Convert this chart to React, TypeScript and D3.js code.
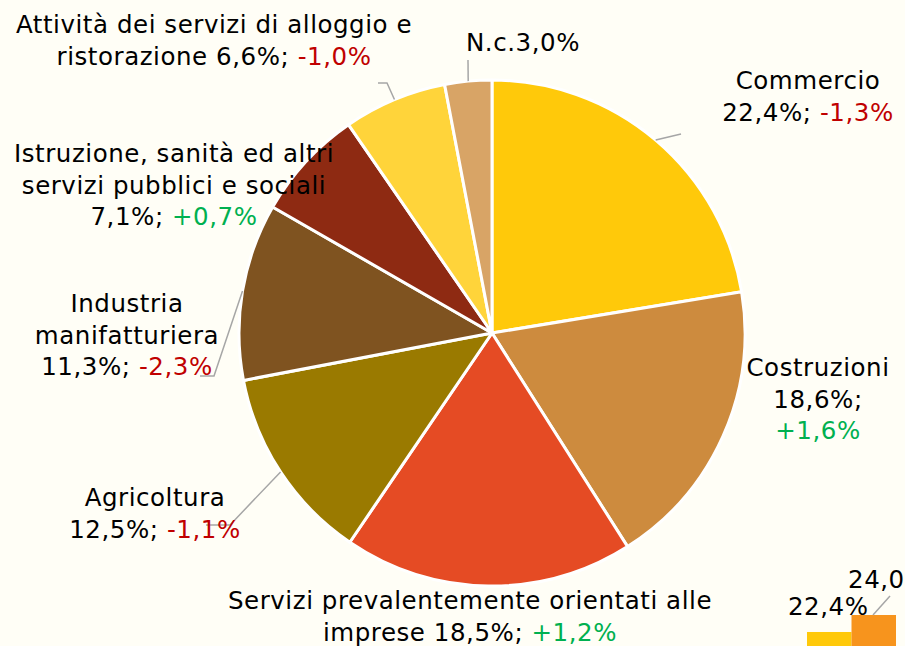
import { useEffect, useRef } from "react";
import * as d3 from "d3";

// sectors, share of total (%) and change (pp)
const sectors = [
  "Commercio",
  "Costruzioni",
  "Servizi prevalentemente orientati alle imprese",
  "Agricoltura",
  "Industria manifatturiera",
  "Istruzione, sanità ed altri servizi pubblici e sociali",
  "Attività dei servizi di alloggio e ristorazione",
  "N.c.",
];
const shares = [22.4, 18.6, 18.5, 12.5, 11.3, 7.1, 6.6, 3.0];
const changes: (number | null)[] = [-1.3, 1.6, 1.2, -1.1, -2.3, 0.7, -1.0, null];
const colors = ["#FFC90A", "#CD8B3E", "#E54B24", "#9A7A00", "#7F5320", "#8E2A12", "#FFD43A", "#D8A466"];

// truncated second chart in the bottom-right corner
const miniValues = [22.4, 24.0];
const miniLabels = ["22,4%", "24,0"];
const miniColors = ["#FFC90A", "#F7941D"];

const W = 905;
const H = 646;
const FONT = "'DejaVu Sans', Verdana, sans-serif";
const fmt = (v: number) => v.toFixed(1).replace(".", ",");
const sign = (v: number) => (v > 0 ? "+" : "") + fmt(v) + "%";

// label layout: text lines (as runs), center x, first baseline, optional leader end points
type Run = { t: string; c?: string };
const RED = "#C00000";
const GREEN = "#00B050";
const chg = (i: number): Run => ({ t: sign(changes[i] as number), c: (changes[i] as number) < 0 ? RED : GREEN });

const labelLayout: { lines: Run[][]; x: number; y: number; leader?: [number, number][] }[] = [
  { lines: [[{ t: "Commercio" }], [{ t: `${fmt(shares[0])}%; ` }, chg(0)]], x: 808, y: 89, leader: [[681, 134]] },
  { lines: [[{ t: "Costruzioni" }], [{ t: `${fmt(shares[1])}%;` }], [chg(1)]], x: 818, y: 376 },
  { lines: [[{ t: "Servizi prevalentemente orientati alle" }], [{ t: `imprese ${fmt(shares[2])}%; ` }, chg(2)]], x: 470, y: 609 },
  { lines: [[{ t: "Agricoltura" }], [{ t: `${fmt(shares[3])}%; ` }, chg(3)]], x: 155, y: 506, leader: [[230, 525], [206, 525]] },
  { lines: [[{ t: "Industria" }], [{ t: "manifatturiera" }], [{ t: `${fmt(shares[4])}%; ` }, chg(4)]], x: 127, y: 312, leader: [[214, 376], [200, 376]] },
  { lines: [[{ t: "Istruzione, sanità ed altri" }], [{ t: "servizi pubblici e sociali" }], [{ t: `${fmt(shares[5])}%; ` }, chg(5)]], x: 174, y: 162 },
  { lines: [[{ t: "Attività dei servizi di alloggio e" }], [{ t: `ristorazione ${fmt(shares[6])}%; ` }, chg(6)]], x: 214, y: 33, leader: [[387, 83], [378, 83]] },
  { lines: [[{ t: `N.c.${fmt(shares[7])}%` }]], x: 523, y: 51, leader: [[468, 60]] },
];

export default function App() {
  const ref = useRef<SVGSVGElement>(null);

  useEffect(() => {
    const svg = d3.select(ref.current).attr("viewBox", `0 0 ${W} ${H}`);
    svg.selectAll("*").remove();

    svg.append("rect").attr("width", W).attr("height", H).attr("fill", "#FFFEF6");

    const cx = 492;
    const cy = 333;
    const radius = 253;

    const pie = d3.pie<number>().sort(null).value((d) => d);
    const arcs = pie(shares);
    const arc = d3.arc<d3.PieArcDatum<number>>().innerRadius(0).outerRadius(radius);

    const g = svg.append("g").attr("transform", `translate(${cx},${cy})`);
    g.selectAll("path")
      .data(arcs)
      .enter()
      .append("path")
      .attr("d", arc)
      .attr("fill", (d, i) => colors[i])
      .attr("stroke", "#fff")
      .attr("stroke-width", 3)
      .attr("stroke-linejoin", "round");

    // leader lines
    arcs.forEach((a, i) => {
      const lay = labelLayout[i];
      if (!lay.leader) return;
      const mid = (a.startAngle + a.endAngle) / 2;
      const pts: [number, number][] = [[cx + radius * Math.sin(mid), cy - radius * Math.cos(mid)], ...lay.leader];
      svg.append("path")
        .attr("d", d3.line()(pts))
        .attr("fill", "none")
        .attr("stroke", "#A6A6A6")
        .attr("stroke-width", 1.5);
    });

    // labels
    labelLayout.forEach((lay) => {
      const t = svg.append("text")
        .attr("text-anchor", "middle")
        .style("font-family", FONT)
        .style("font-size", "24.5px")
        .style("letter-spacing", "0.55px")
        .attr("fill", "#000");
      lay.lines.forEach((runs, li) => {
        runs.forEach((r, ri) => {
          const ts = t.append("tspan").text(r.t).attr("fill", r.c || "#000");
          if (ri === 0) ts.attr("x", lay.x).attr("y", lay.y + li * 31.5);
        });
      });
    });

    // truncated mini chart in the corner
    const x = d3.scaleBand().domain(miniLabels).range([807, 896]).padding(0);
    const y = d3.scaleLinear().domain([21.08, 24.0]).range([H, 615]);
    svg.selectAll("rect.mini")
      .data(miniValues)
      .enter()
      .append("rect")
      .attr("class", "mini")
      .attr("x", (d, i) => x(miniLabels[i]) as number)
      .attr("width", x.bandwidth())
      .attr("y", (d) => y(d))
      .attr("height", (d) => H - y(d))
      .attr("fill", (d, i) => miniColors[i]);
    svg.append("path")
      .attr("d", d3.line()([[873, 615], [890, 596]]))
      .attr("stroke", "#A6A6A6")
      .attr("stroke-width", 1.5);
    svg.append("text")
      .attr("x", (x(miniLabels[0]) as number) + x.bandwidth() / 2 - 1)
      .attr("y", 615)
      .attr("text-anchor", "middle")
      .style("font-family", FONT)
      .style("font-size", "24.5px")
      .style("letter-spacing", "0.55px")
      .text(miniLabels[0]);
    svg.append("text")
      .attr("x", 848)
      .attr("y", 588)
      .style("font-family", FONT)
      .style("font-size", "24.5px")
      .style("letter-spacing", "0.55px")
      .text(miniLabels[1]);
  }, []);

  return (
    <div style={{ position: "fixed", left: 0, top: 0, width: W, height: H }}>
      <svg ref={ref} width={W} height={H} style={{ display: "block" }}></svg>
    </div>
  );
}
